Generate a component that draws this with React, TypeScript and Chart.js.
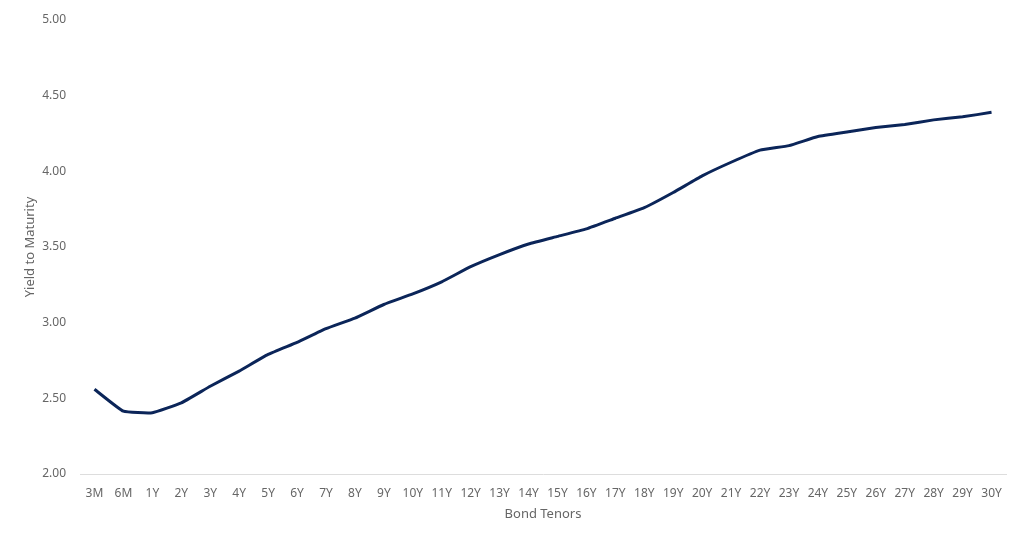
import React, { useEffect, useRef } from "react";
import { Chart, registerables } from "chart.js";

Chart.register(...registerables);

const tenors = ["3M","6M","1Y","2Y","3Y","4Y","5Y","6Y","7Y","8Y","9Y","10Y","11Y","12Y","13Y","14Y","15Y","16Y","17Y","18Y","19Y","20Y","21Y","22Y","23Y","24Y","25Y","26Y","27Y","28Y","29Y","30Y"];
const yields = [2.56,2.415,2.405,2.47,2.58,2.68,2.79,2.87,2.96,3.03,3.12,3.19,3.27,3.37,3.45,3.52,3.57,3.62,3.69,3.76,3.86,3.97,4.06,4.14,4.17,4.23,4.26,4.29,4.31,4.34,4.36,4.39];
const yTitle = "Yield to Maturity";
const xTitle = "Bond Tenors";

export default function App() {
  const ref = useRef<HTMLCanvasElement>(null);
  useEffect(() => {
    document.body.style.margin = "0";
    const font = { family: "'Noto Sans', sans-serif", size: 12 };
    const chart = new Chart(ref.current!, {
      type: "line",
      data: {
        labels: tenors,
        datasets: [{
          data: yields,
          borderColor: "#0b2559",
          borderWidth: 3,
          pointRadius: 0,
          tension: 0.12,
          fill: false,
        }],
      },
      options: {
        animation: false,
        responsive: false,
        maintainAspectRatio: false,
        layout: { padding: { top: -3, right: 18, left: 22, bottom: 20 } },
        plugins: { legend: { display: false }, tooltip: { enabled: false } },
        scales: {
          x: {
            offset: true,
            grid: { display: false, drawTicks: false },
            border: { color: "#dddddd", width: 1 },
            ticks: { color: "#666666", font, maxRotation: 0, autoSkip: false, padding: 12 },
            title: { display: true, text: xTitle, color: "#666666", font: { ...font, size: 13 }, padding: { top: 0, bottom: 0 } },
            afterFit: (s: any) => { s.height = 48; },
          },
          y: {
            min: 2,
            max: 5,
            grid: { display: false, drawTicks: false },
            border: { display: false },
            ticks: { stepSize: 0.5, color: "#666666", font: { ...font, lineHeight: 1 }, padding: 14, callback: (v) => Number(v).toFixed(2) },
            title: { display: true, text: yTitle, color: "#666666", font: { ...font, size: 13 }, padding: { top: 0, bottom: 0 } },
            afterFit: (s: any) => { s.width = 58; },
          },
        },
      },
    });
    return () => chart.destroy();
  }, []);
  return (
    <div style={{ width: 1024, height: 542 }}>
      <canvas ref={ref} width={1024} height={542} style={{ width: 1024, height: 542 }} />
    </div>
  );
}
